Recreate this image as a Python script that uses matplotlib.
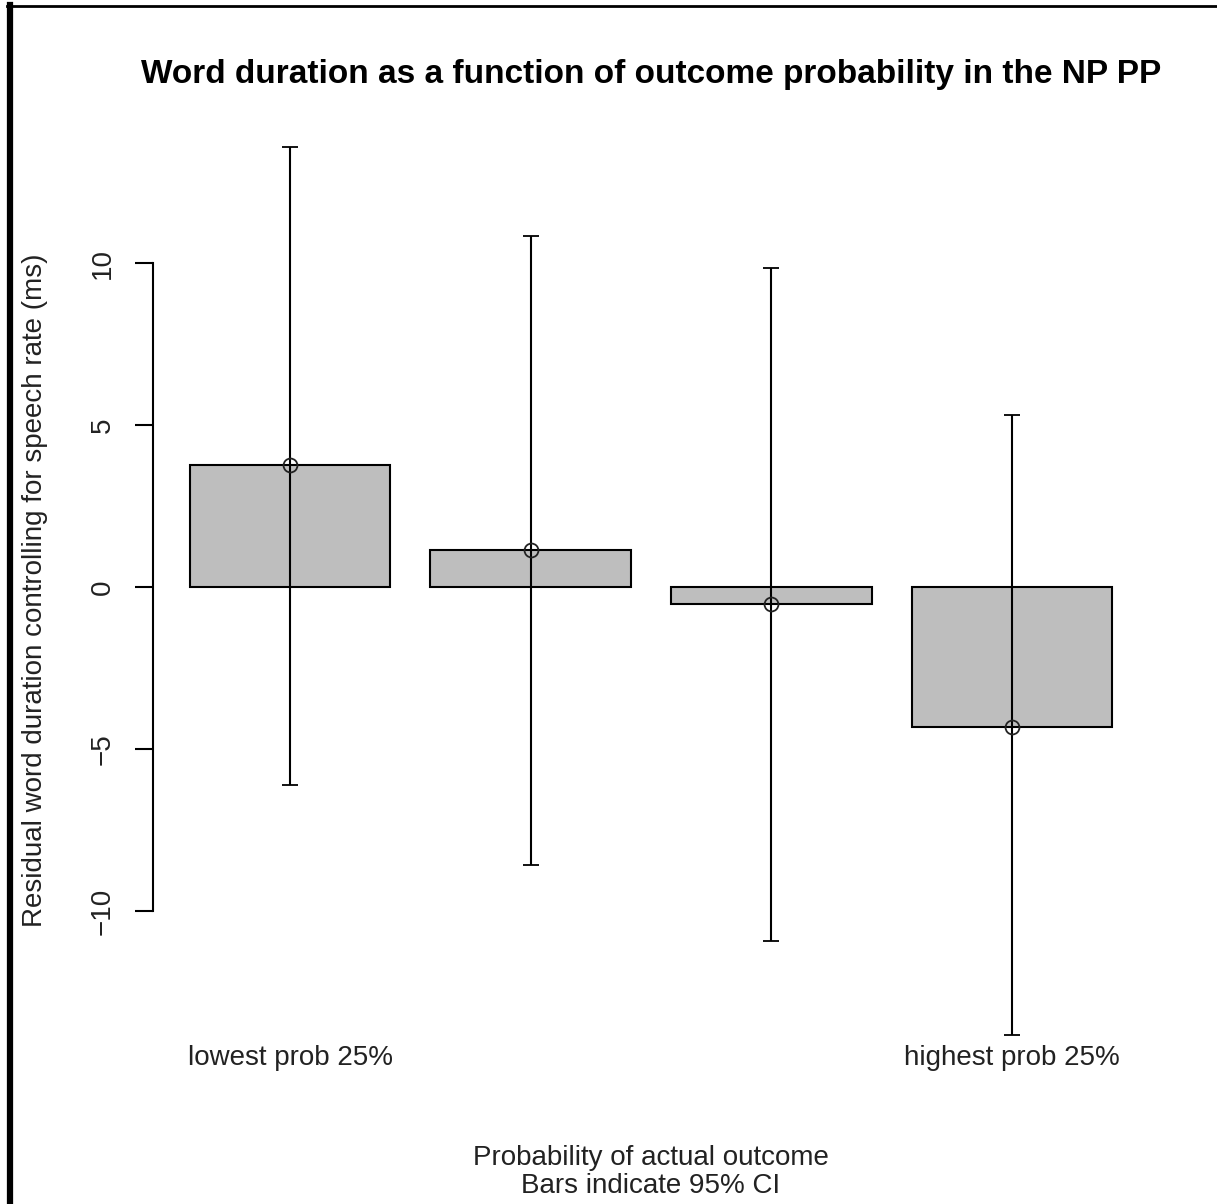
import matplotlib
matplotlib.use("Agg")
import matplotlib.pyplot as plt
from matplotlib.lines import Line2D
import numpy as np

plt.rcParams["font.family"] = ["Liberation Sans", "DejaVu Sans"]

# bar heights (means) and 95% CI bounds, in ms
groups = ["lowest prob 25%", "", "", "highest prob 25%"]
means = [3.78, 1.14, -0.52, -4.32]
ci_low = [-6.11, -8.58, -10.93, -13.83]
ci_high = [13.6, 10.83, 9.85, 5.31]

W, H = 1217, 1204
fig = plt.figure(figsize=(W / 100, H / 100), dpi=100)
fig.patch.set_facecolor("white")

# axes region in pixels (R plot region)
left, right, top, bottom = 153, 1149, 111, 1071
ax = fig.add_axes([left / W, 1 - bottom / H, (right - left) / W, (bottom - top) / H])

# R barplot style positions: width 1, space 0.2
x = 0.7 + 1.2 * np.arange(len(means))
ax.bar(x, means, width=1.0, color="#bebebe", edgecolor="black", linewidth=1.5)

yerr = [np.array(means) - np.array(ci_low), np.array(ci_high) - np.array(means)]
ax.errorbar(x, means, yerr=yerr, fmt="o", mfc="none", mec="#222222", ms=10, mew=1.3,
            ecolor="black", elinewidth=1.5, capsize=6, capthick=1.5)

lo, hi = min(ci_low), max(ci_high)
pad = 0.04 * (hi - lo)
ax.set_ylim(lo - pad, hi + pad)
xl, xr = 0.2, x[-1] + 0.5
xpad = 0.04 * (xr - xl)
ax.set_xlim(xl - xpad, xr + xpad)

for s in ["top", "right", "bottom"]:
    ax.spines[s].set_visible(False)
ax.spines["left"].set_bounds(-10, 10)
ax.spines["left"].set_linewidth(1.5)
ax.set_yticks([-10, -5, 0, 5, 10])
ax.set_yticklabels(["\u221210", "\u22125", "0", "5", "10"], rotation=90, va="center")
ax.tick_params(axis="y", direction="out", length=13, width=1.5, pad=14, labelsize=20,
               labelcolor="#222222")
ax.set_xticks([])

# group names under the bars
for xi, g in zip(x, groups):
    ax.text(xi, (bottom - 1058) / (bottom - top), g, transform=ax.get_xaxis_transform(),
            ha="center", va="center", fontsize=20, color="#222222")

fig.text(651 / W, 1 - 75 / H, "Word duration as a function of outcome probability in the NP PP",
         ha="center", va="center", fontsize=24, fontweight="bold")
fig.text(651 / W, 1 - 1172 / H, "Probability of actual outcome\nBars indicate 95% CI",
         ha="center", va="center", fontsize=20, linespacing=1.07, color="#222222")
fig.text(35 / W, 1 - 590 / H, "Residual word duration controlling for speech rate (ms)",
         ha="center", va="center", rotation=90, fontsize=20, color="#222222")

# page border (left and top)
fig.add_artist(Line2D([9.5 / W, 9.5 / W], [0, 1 - 5 / H], color="black", linewidth=4.5))
fig.add_artist(Line2D([7 / W, 1], [1 - 6 / H, 1 - 6 / H], color="black", linewidth=2))

fig.savefig("out.png", dpi=100, facecolor="white")
